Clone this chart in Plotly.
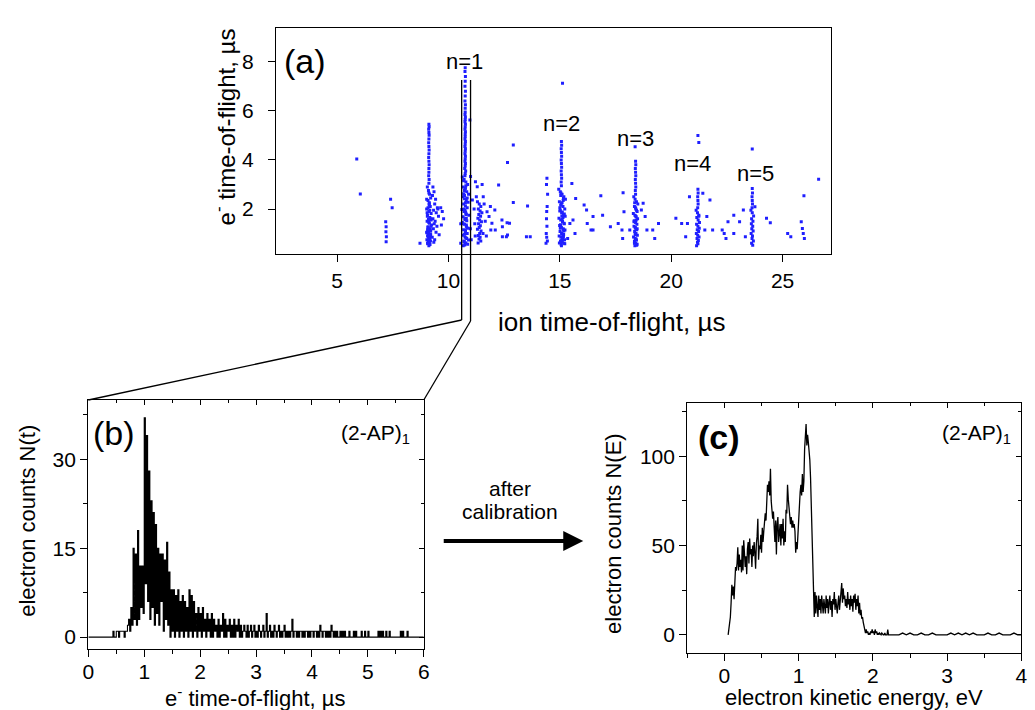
import numpy as np
import plotly.graph_objects as go

# ---------------- Panel (a): ion TOF vs electron TOF scatter ----------------
iso_ion = [5.88, 6.04, 7.18, 7.20, 7.19, 7.21, 7.20, 7.40, 7.47, 8.72]
iso_e = [4.04, 2.61, 1.48, 1.28, 1.07, 0.87, 0.67, 2.40, 2.05, 0.60]

col9_ion = [9.12, 9.13, 9.11, 9.12, 9.13, 9.12, 9.11, 9.12, 9.13, 9.12, 9.11, 9.12, 9.13, 9.12, 9.12, 9.11, 9.13, 9.12,
            9.05, 9.10, 9.15, 9.20, 9.08, 9.13, 9.18, 9.02, 9.12, 9.22, 9.06, 9.16, 9.10, 9.04, 9.14, 9.24, 9.08, 9.18,
            9.12, 9.02, 9.10, 9.20, 9.06, 9.15, 9.11, 9.03, 9.19, 9.09, 9.13, 9.07, 9.17, 9.12, 9.05, 9.21, 9.10, 9.14,
            9.30, 9.35, 9.28, 9.42, 9.38, 9.50, 9.33, 9.45, 9.55, 9.30, 9.40, 9.36, 9.48, 9.32, 9.44, 9.58, 9.27, 9.38,
            9.52, 9.34, 9.65, 9.72, 9.68, 9.78,
            9.08, 9.16, 9.04, 9.20, 9.12, 9.06, 9.18, 9.10, 9.14, 9.02,
            9.22, 9.08, 9.16, 9.12, 9.04, 9.20, 9.10, 9.14, 9.06, 9.18]
col9_e = [5.45, 5.35, 5.25, 5.12, 5.0, 4.85, 4.7, 4.55, 4.4, 4.25, 4.1, 3.95, 3.8, 3.65, 3.5, 3.35, 3.2, 3.05,
          2.9, 2.75, 2.6, 2.45, 2.35, 2.2, 2.1, 2.0, 1.9, 1.82, 1.75, 1.65, 1.58, 1.5, 1.42, 1.35, 1.28, 1.2,
          1.12, 1.05, 1.0, 0.95, 0.9, 0.85, 0.8, 0.75, 0.7, 0.65, 0.62, 0.58, 0.55, 0.5, 1.7, 1.3, 0.72, 2.25,
          2.9, 2.7, 2.55, 2.4, 2.2, 2.05, 1.95, 1.85, 1.7, 1.6, 1.5, 1.4, 1.3, 1.2, 1.05, 0.95, 0.85, 0.75,
          2.0, 0.65, 2.05, 1.9, 1.35, 1.6,
          2.05, 1.95, 1.85, 1.6, 1.45, 1.15, 0.98, 0.88, 0.68, 2.4,
          1.55, 1.25, 0.78, 2.65, 1.02, 1.1, 1.52, 2.15, 0.6, 0.95]

n1_ion = [10.75, 10.74, 10.76, 10.75, 10.74, 10.76, 10.75, 10.74, 10.76, 10.75,
          10.75, 10.74, 10.76, 10.75, 10.74, 10.76, 10.75, 10.74, 10.76, 10.75,
          10.75, 10.74, 10.76, 10.75, 10.74, 10.76, 10.75, 10.74, 10.76, 10.75,
          10.74, 10.76, 10.75, 10.73, 10.77, 10.75, 10.74,
          10.62, 10.70, 10.78, 10.86, 10.66, 10.74, 10.82, 10.90, 10.64, 10.72,
          10.80, 10.88, 10.68, 10.76, 10.84, 10.60, 10.70, 10.78, 10.92, 10.66,
          10.74, 10.82, 10.62, 10.72, 10.80, 10.88, 10.68, 10.76, 10.84, 10.64,
          10.74, 10.82, 10.90, 10.70, 10.78, 10.86, 10.66, 10.74, 10.80, 10.72,
          10.68, 10.78, 10.72, 10.84, 10.76, 10.70, 10.80, 10.74, 10.66, 10.82,
          10.76, 10.72, 10.78, 10.70, 10.74, 10.80, 10.68, 10.76, 10.73, 10.77,
          10.96, 10.99, 11.21, 11.29, 11.07, 11.51, 10.55, 10.55, 10.98, 11.02]
n1_e = [7.75, 7.6, 7.4, 7.2, 7.0, 6.8, 6.6, 6.4, 6.25, 6.1,
        5.95, 5.85, 5.75, 5.65, 5.55, 5.45, 5.35, 5.25, 5.15, 5.05,
        4.95, 4.85, 4.75, 4.65, 4.55, 4.45, 4.35, 4.25, 4.15, 4.05,
        3.95, 3.85, 3.75, 3.65, 3.55, 3.45, 3.35,
        3.3, 3.2, 3.1, 3.0, 2.9, 2.8, 2.7, 2.6, 2.5, 2.42,
        2.35, 2.28, 2.2, 2.12, 2.05, 1.98, 1.9, 1.82, 1.75, 1.68,
        1.6, 1.52, 1.45, 1.38, 1.3, 1.22, 1.15, 1.08, 1.0, 0.93,
        0.86, 0.8, 0.74, 0.68, 0.62, 0.56, 0.5, 1.95, 1.35, 2.55,
        3.15, 2.95, 2.75, 2.45, 2.25, 2.0, 1.78, 1.56, 1.4, 1.25,
        1.12, 0.97, 0.83, 0.7, 0.6, 1.62, 2.62, 2.85, 0.53, 1.88,
        5.63, 3.32, 3.11, 2.91, 2.37, 3.0, 1.4, 0.6, 1.2, 0.75]

c11_ion = [11.30, 11.38, 11.45, 11.34, 11.42, 11.50, 11.36, 11.44, 11.32, 11.40, 11.48,
           11.35, 11.43, 11.38, 11.30, 11.46, 11.40, 11.34, 11.42, 11.37, 11.45, 11.33]
c11_e = [2.3, 2.2, 2.1, 2.0, 1.92, 1.85, 1.78, 1.7, 1.62, 1.55, 1.48,
         1.4, 1.32, 1.25, 1.18, 1.1, 1.0, 0.92, 0.85, 0.78, 0.7, 0.62]

scat1_ion = [11.56, 11.82, 11.90, 12.08, 12.25, 12.42, 12.60, 12.63, 12.91, 12.65,
             12.91, 13.55, 13.50, 13.67, 12.42, 11.73, 11.95, 12.10, 12.40, 12.65,
             12.74, 11.15, 11.18, 11.20, 11.60, 11.65, 11.70, 11.55, 11.25, 11.88]
scat1_e = [2.50, 1.69, 1.14, 1.96, 2.98, 0.87, 0.87, 1.44, 4.61, 3.89,
           2.26, 2.12, 0.87, 0.87, 1.28, 1.89, 1.42, 1.14, 1.55, 0.94,
           1.42, 2.0, 1.4, 0.9, 2.2, 1.5, 0.9, 1.0, 2.5, 2.1]

n2_ion = [15.07, 15.08, 15.06, 15.07, 15.08, 15.06, 15.07, 15.08, 15.06, 15.07, 15.08, 15.06, 15.07, 15.12,
          14.95, 15.02, 15.10, 15.18, 15.25, 14.98, 15.06, 15.14, 15.22, 15.00,
          15.08, 15.16, 15.24, 14.96, 15.04, 15.12, 15.20, 14.99, 15.07, 15.15,
          15.23, 15.01, 15.09, 15.17, 14.97, 15.05, 15.13, 15.21, 15.03, 15.11,
          15.19, 15.06, 15.14, 15.02, 15.10, 15.18, 15.08, 15.12, 15.04, 15.16,
          14.45, 14.42, 14.40, 14.43, 14.41, 14.40, 14.42, 14.39, 14.41, 14.44, 14.38,
          15.54, 15.59, 15.68, 16.09, 16.20, 16.23, 16.40, 16.49, 16.49, 15.71,
          15.45, 16.84, 16.92, 17.27, 17.62, 17.84, 15.35,
          15.05, 15.15, 15.00, 15.20, 15.10, 15.03, 15.17, 15.08, 15.12, 14.98,
          15.22, 15.06, 15.14, 15.02, 15.18, 15.09, 15.11, 15.04, 15.16, 15.07]
n2_e = [4.75, 4.6, 4.45, 4.3, 4.15, 4.0, 3.85, 3.7, 3.55, 3.4, 3.25, 3.1, 2.95, 7.12,
        2.8, 2.7, 2.6, 2.5, 2.4, 2.3, 2.2, 2.1, 2.0, 1.92,
        1.85, 1.78, 1.7, 1.62, 1.55, 1.48, 1.4, 1.33, 1.26, 1.2,
        1.14, 1.08, 1.02, 0.96, 0.9, 0.85, 0.8, 0.75, 0.7, 0.65,
        0.6, 0.55, 1.65, 1.95, 2.25, 1.1, 0.72, 1.5, 2.55, 0.88,
        2.6, 3.25, 3.0, 2.1, 1.9, 1.6, 1.3, 1.0, 0.85, 0.7, 0.6,
        3.04, 1.55, 1.0, 2.16, 1.96, 1.41, 1.14, 1.14, 1.69, 2.43,
        1.41, 2.54, 1.75, 1.28, 1.41, 2.66, 0.8,
        2.65, 2.35, 2.05, 1.8, 1.58, 1.36, 1.16, 0.98, 0.78, 0.62,
        0.58, 0.68, 0.92, 1.22, 1.42, 1.72, 1.88, 2.15, 2.45, 0.5]

n3_ion = [18.38,
          18.40, 18.41, 18.39, 18.40, 18.41, 18.39, 18.40, 18.41, 18.39, 18.40,
          18.32, 18.38, 18.44, 18.50, 18.35, 18.41, 18.47, 18.30, 18.37, 18.43,
          18.49, 18.34, 18.40, 18.46, 18.33, 18.39, 18.45, 18.36, 18.42, 18.48,
          18.31, 18.38, 18.44, 18.35, 18.41, 18.47, 18.37, 18.43, 18.39, 18.40,
          17.88, 17.79, 17.82, 18.14, 18.74, 18.83, 18.91, 19.17, 19.26, 19.43, 18.66,
          18.36, 18.44, 18.40, 18.33, 18.47, 18.38, 18.42, 18.35, 18.45, 18.40]
n3_e = [4.54,
        3.95, 3.8, 3.65, 3.5, 3.35, 3.2, 3.05, 2.9, 2.75, 2.6,
        2.5, 2.4, 2.3, 2.2, 2.1, 2.0, 1.9, 1.82, 1.75, 1.68,
        1.6, 1.52, 1.45, 1.38, 1.3, 1.22, 1.15, 1.08, 1.0, 0.93,
        0.86, 0.8, 0.74, 0.68, 0.62, 0.56, 0.5, 1.55, 1.25, 0.95,
        1.89, 1.14, 0.8, 1.14, 2.23, 1.69, 1.14, 1.14, 0.8, 1.41, 1.96,
        2.25, 1.95, 1.72, 1.48, 1.2, 0.98, 0.78, 0.6, 0.52, 2.05]

n4_ion = [21.20, 21.24,
          21.20, 21.21, 21.19, 21.20, 21.21, 21.19,
          21.12, 21.18, 21.24, 21.15, 21.21, 21.27, 21.14, 21.20, 21.26, 21.17,
          21.23, 21.13, 21.19, 21.25, 21.16, 21.22, 21.18, 21.20, 21.14, 21.24,
          20.82, 20.73, 20.65, 20.21, 20.47, 21.60, 21.74, 21.42, 21.51, 21.86, 22.29, 22.46, 22.38, 22.55]
n4_e = [4.99, 4.71,
        2.8, 2.65, 2.5, 2.35, 2.2, 2.05,
        1.95, 1.85, 1.75, 1.65, 1.55, 1.45, 1.38, 1.3, 1.22, 1.15,
        1.08, 1.0, 0.93, 0.86, 0.8, 0.72, 0.65, 0.58, 0.5, 1.7,
        2.5, 1.41, 0.87, 1.62, 1.41, 1.69, 2.37, 2.64, 1.14, 1.14, 1.14, 0.8, 1.0, 1.48]

n5_ion = [23.64,
          23.64, 23.65, 23.63, 23.64, 23.65, 23.63,
          23.58, 23.64, 23.70, 23.61, 23.67, 23.60, 23.66, 23.62, 23.68, 23.59,
          23.65, 23.63, 23.69, 23.61, 23.66,
          23.24, 23.07, 22.81, 22.81, 23.33, 23.76, 24.28, 24.45, 25.23, 25.37,
          25.84, 25.89, 25.93, 25.98, 25.96, 26.62]
n5_e = [4.44,
        2.84, 2.65, 2.5, 2.35, 2.2, 2.05,
        1.95, 1.85, 1.72, 1.6, 1.5, 1.4, 1.3, 1.2, 1.1, 1.0,
        0.9, 0.8, 0.7, 0.6, 0.52,
        1.96, 1.48, 1.75, 1.0, 0.87, 2.09, 1.62, 1.44, 1.0, 0.87,
        1.48, 1.21, 1.0, 0.8, 2.54, 3.21]

cluster_labels = ["n=1", "n=2", "n=3", "n=4", "n=5"]
label_ion = [10.72, 15.09, 18.38, 20.94, 23.80]
label_e = [8.0, 5.5, 4.88, 3.87, 3.46]

# ---------------- Panel (b): electron TOF histogram (bins of 0.02 us from 0.40 us) ----------------
b_start, b_step = 0.40, 0.02
b_counts = [
    0, 0, 1, 0, 0, 1, 1, 0, 1, 1,
    1, 1, 0, 1, 1, 2, 3, 1, 5, 2,
    15, 3, 14, 2, 18, 3, 12, 5, 12, 4,
    37, 9, 34, 6, 28, 3, 23, 5, 21, 2,
    19, 4, 15, 2, 14, 6, 14, 1, 13, 3,
    16, 2, 11, 0, 8, 1, 8, 0, 7, 1,
    8, 0, 6, 1, 7, 0, 6, 1, 5, 0,
    8, 1, 7, 0, 6, 1, 4, 0, 5, 1,
    4, 0, 5, 1, 3, 0, 4, 1, 3, 0,
    4, 0, 3, 1, 2, 0, 3, 0, 2, 1,
    4, 0, 3, 0, 2, 1, 3, 0, 2, 0,
    3, 0, 2, 1, 3, 0, 2, 0, 1, 2,
    1, 0, 2, 0, 1, 2, 0, 1, 2, 0,
    1, 0, 2, 1, 0, 1, 2, 0, 1, 4,
    0, 1, 2, 0, 1, 0, 2, 1, 0, 1,
    2, 0, 1, 0, 1, 2, 0, 1, 0, 1,
    0, 1, 3, 0, 1, 1, 0, 1, 0, 1,
    1, 0, 1, 0, 1, 1, 0, 1, 0, 1,
    1, 0, 1, 1, 0, 1, 0, 2, 1, 0,
    1, 1, 0, 1, 0, 1, 0, 2, 1, 0,
    1, 0, 1, 0, 0, 1, 0, 1, 0, 1,
    0, 0, 0, 1, 0, 0, 0, 1, 0, 1,
    0, 0, 0, 0, 1, 0, 0, 1, 0, 0,
    1, 0, 0, 0, 0, 0, 0, 0, 0, 1,
    0, 1, 0, 1, 0, 0, 1, 0, 0, 1,
    0, 0, 0, 0, 0, 0, 0, 0, 0, 1,
    0, 1, 0, 0, 0, 1, 0,
]
b_range_ends = [0.0, 6.0]  # zero-count baseline extends over whole axis

# ---------------- Panel (c): electron kinetic energy spectrum ----------------
c_start, c_step = 0.05, 0.01
c_counts = [
    0, 3, 7, 10, 18, 28, 22, 27, 20, 30,
    38, 36, 40, 49, 36, 45, 38, 42, 35, 50,
    36, 53, 40, 38, 44, 34, 48, 52, 40, 54,
    45, 48, 38, 50, 44, 52, 46, 37, 51, 55,
    65, 42, 50, 48, 56, 46, 60, 52, 58, 62,
    68, 64, 74, 84, 80, 86, 78, 93, 75, 70,
    65, 69, 60, 52, 64, 45, 62, 66, 52, 58,
    62, 50, 62, 54, 65, 50, 58, 52, 70, 68,
    84, 76, 72, 66, 62, 66, 60, 64, 60, 62,
    58, 46, 52, 48, 60, 62, 72, 80, 84, 78,
    90, 80, 86, 104, 110, 118, 106, 112, 108, 104,
    98, 88, 70, 50, 28, 18, 10, 24, 12, 22,
    18, 10, 22, 14, 20, 12, 22, 18, 12, 20,
    16, 12, 22, 15, 20, 12, 18, 22, 14, 19,
    10, 20, 17, 24, 14, 20, 16, 12, 18, 22,
    14, 20, 25, 29, 18, 26, 20, 22, 16, 20,
    15, 24, 17, 20, 14, 22, 16, 20, 13, 22,
    18, 23, 14, 20, 16, 22, 12, 18, 11, 14,
    9, 10, 7, 5, 3, 1, 3, 1, 2, 0,
    1, 0, 2, 1, 3, 1, 2, 0, 3, 1,
    2, 0, 1, 0, 1, 0, 0, 1, 0, 0,
    0, 1, 0, 0, 0, 3, 0,
]
c_tail_start, c_tail_step = 2.25, 0.05
c_tail_counts = [0, 0, 0, 1, 0, 1, 0, 0, 1, 0, 0, 1, 0, 0, 0, 0, 1, 0, 1, 0,
                 1, 0, 1, 0, 0, 0, 1, 0, 0, 1, 0, 0, 0, 1, 0, 0]

# ---------------- build arrays ----------------
ion_all, e_all = [], []
for gx, gy in [(iso_ion, iso_e), (col9_ion, col9_e), (n1_ion, n1_e), (c11_ion, c11_e),
               (scat1_ion, scat1_e), (n2_ion, n2_e), (n3_ion, n3_e), (n4_ion, n4_e), (n5_ion, n5_e)]:
    for a, b in zip(gx, gy):
        ion_all.append(a)
        e_all.append(b)

b_x = [b_range_ends[0]] + list(np.round(b_start + b_step * np.arange(len(b_counts)), 3)) + [b_range_ends[1]]
b_y = [0] + b_counts + [0]

c_x = list(np.round(c_start + c_step * np.arange(len(c_counts)), 3)) + \
      list(np.round(c_tail_start + c_tail_step * np.arange(len(c_tail_counts)), 3))
c_y = c_counts + c_tail_counts

# ---------------- figure ----------------
W, H = 1035, 710


def PX(x):
    return x / W


def PY(y):
    return 1 - y / H


FONT = "Arial, Liberation Sans, sans-serif"

fig = go.Figure()
fig.add_trace(go.Scatter(x=ion_all, y=e_all, mode="markers",
                         marker=dict(color="#1f1fff", size=3, symbol="square", line=dict(width=0)),
                         xaxis="x", yaxis="y", showlegend=False, hoverinfo="skip"))
fig.add_trace(go.Scatter(x=b_x, y=b_y, mode="lines", line=dict(color="black", width=1.1, shape="hv"),
                         xaxis="x2", yaxis="y2", showlegend=False))
fig.add_trace(go.Scatter(x=c_x, y=c_y, mode="lines", line=dict(color="black", width=1.3),
                         xaxis="x3", yaxis="y3", showlegend=False))
# helper traces for mirrored inner ticks
fig.add_trace(go.Scatter(x=[None], y=[None], xaxis="x4", yaxis="y2", showlegend=False))
fig.add_trace(go.Scatter(x=[None], y=[None], xaxis="x2", yaxis="y4", showlegend=False))
fig.add_trace(go.Scatter(x=[None], y=[None], xaxis="x5", yaxis="y3", showlegend=False))
fig.add_trace(go.Scatter(x=[None], y=[None], xaxis="x3", yaxis="y5", showlegend=False))

ax_common = dict(showline=True, linecolor="black", linewidth=1.3, mirror=True,
                 ticks="outside", ticklen=7, tickwidth=1.3, tickcolor="black",
                 showgrid=False, zeroline=False,
                 tickfont=dict(family=FONT, size=21, color="black"))

dom_a_x = [PX(273.3), PX(835)]
dom_a_y = [PY(254.3), PY(28.3)]
dom_b_x = [PX(83.3), PX(422.7)]
dom_b_y = [PY(649), PY(400)]
dom_c_x = [PX(689.3), PX(1027.3)]
dom_c_y = [PY(652.7), PY(402.7)]

mirror_common = dict(ticks="inside", ticklen=5, tickcolor="black", tickwidth=1.2, showticklabels=False,
                     showline=False, showgrid=False, zeroline=False)

fig.update_layout(
    width=W, height=H, margin=dict(l=0, r=0, t=0, b=0),
    paper_bgcolor="white", plot_bgcolor="white",
    font=dict(family=FONT, color="black"),
    xaxis=dict(ax_common, domain=dom_a_x, anchor="y", range=[2.26, 27.19],
               tickvals=[5, 10, 15, 20, 25]),
    yaxis=dict(ax_common, domain=dom_a_y, anchor="x", range=[0.155, 9.36],
               tickvals=[2, 4, 6, 8], ticklabelstandoff=10),
    xaxis2=dict(ax_common, domain=dom_b_x, anchor="y2", range=[0, 6], tick0=0, dtick=1,
                ticklabelstandoff=-3,
                minor=dict(dtick=0.5, ticklen=4, ticks="outside", tickcolor="black", tickwidth=1.2)),
    yaxis2=dict(ax_common, domain=dom_b_y, anchor="x2", range=[-2, 40], tickvals=[0, 15, 30],
                minor=dict(tickvals=[7.5, 22.5, 37.5], ticklen=4, ticks="outside", tickcolor="black", tickwidth=1.2)),
    xaxis3=dict(ax_common, domain=dom_c_x, anchor="y3", range=[-0.5, 4], tick0=0, dtick=1,
                ticklabelstandoff=-3,
                minor=dict(tickvals=[-0.5, 0.5, 1.5, 2.5, 3.5], ticklen=4, ticks="outside", tickcolor="black", tickwidth=1.2)),
    yaxis3=dict(ax_common, domain=dom_c_y, anchor="x3", range=[-10, 130], tickvals=[0, 50, 100],
                minor=dict(tickvals=[25, 75, 125], ticklen=4, ticks="outside", tickcolor="black", tickwidth=1.2)),
    xaxis4=dict(mirror_common, overlaying="x2", side="top", anchor="y2", range=[0, 6], tick0=0, dtick=1,
                minor=dict(dtick=0.5, ticklen=3, ticks="inside", tickcolor="black")),
    yaxis4=dict(mirror_common, overlaying="y2", side="right", anchor="x2", range=[-2, 40], tickvals=[0, 15, 30],
                minor=dict(tickvals=[7.5, 22.5, 37.5], ticklen=3, ticks="inside", tickcolor="black")),
    xaxis5=dict(mirror_common, overlaying="x3", side="top", anchor="y3", range=[-0.5, 4], tick0=0, dtick=1,
                minor=dict(tickvals=[-0.5, 0.5, 1.5, 2.5, 3.5], ticklen=3, ticks="inside", tickcolor="black")),
    yaxis5=dict(mirror_common, overlaying="y3", side="right", anchor="x3", range=[-10, 130], tickvals=[0, 50, 100],
                minor=dict(tickvals=[25, 75, 125], ticklen=3, ticks="inside", tickcolor="black")),
)

ann = []


def text(x, y, s, size, xanchor="center", yanchor="middle", textangle=0, bold=False):
    ann.append(dict(x=x, y=y, xref="paper", yref="paper", text=("<b>%s</b>" % s) if bold else s,
                    showarrow=False, xanchor=xanchor, yanchor=yanchor, textangle=textangle,
                    font=dict(family=FONT, size=size, color="black")))


# panel labels
text(PX(302.5), PY(61), "(a)", 34)
text(PX(108.8), PY(433), "(b)", 34)
text(PX(721.7), PY(437), "(c)", 34, bold=True)
# axis titles
text(PX(613), PY(322), "ion time-of-flight, µs", 26)
text(PX(221), PY(127), "e<sup>-</sup> time-of-flight, µs", 24, textangle=-90)
text(PX(252), PY(697), "e<sup>-</sup> time-of-flight, µs", 22)
text(PX(21), PY(521), "electron counts N(t)", 22, textangle=-90)
text(PX(857.5), PY(697), "electron kinetic energy, eV", 22)
text(PX(614), PY(533), "electron counts N(E)", 22, textangle=-90)
# species tags
text(PX(411), PY(434), "(2-AP)<sub>1</sub>", 21, xanchor="right")
text(PX(1019), PY(434), "(2-AP)<sub>1</sub>", 21, xanchor="right")
# after calibration
text(PX(510), PY(488), "after", 21)
text(PX(510), PY(511), "calibration", 21)

# cluster size labels in data coordinates of panel (a)
for lab, xi, yi in zip(cluster_labels, label_ion, label_e):
    ann.append(dict(x=xi, y=yi, xref="x", yref="y", text=lab, showarrow=False,
                    font=dict(family=FONT, size=22, color="black")))

# calibration arrow
ann.append(dict(x=PX(584), y=PY(541), xref="paper", yref="paper", ax=-141, ay=0,
                text="", showarrow=True, arrowhead=2, arrowsize=1, arrowwidth=4,
                arrowcolor="black"))
fig.update_layout(annotations=ann)

# connector lines from the n=1 gate of (a) to panel (b)
lw = 1.3
shapes = [
    dict(type="line", xref="paper", yref="paper", x0=PX(461), y0=PY(80), x1=PX(461), y1=PY(320),
         line=dict(color="black", width=lw)),
    dict(type="line", xref="paper", yref="paper", x0=PX(461), y0=PY(320), x1=PX(83.3), y1=PY(400),
         line=dict(color="black", width=lw)),
    dict(type="line", xref="paper", yref="paper", x0=PX(470), y0=PY(80), x1=PX(470), y1=PY(321),
         line=dict(color="black", width=lw)),
    dict(type="line", xref="paper", yref="paper", x0=PX(470), y0=PY(321), x1=PX(422.7), y1=PY(400),
         line=dict(color="black", width=lw)),
]
fig.update_layout(shapes=shapes)

fig.write_html("out.html")
